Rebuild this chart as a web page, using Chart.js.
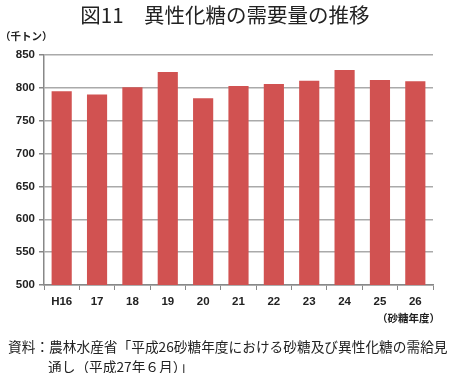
<!DOCTYPE html>
<html><head><meta charset="utf-8">
<script src="https://cdn.jsdelivr.net/npm/chart.js@4"></script>
<style>
html,body{margin:0;padding:0;background:#fff;}
#wrap{position:relative;width:450px;height:373px;overflow:hidden;font-family:"Noto Sans CJK JP",sans-serif;color:#222;}
canvas{position:absolute;left:0;top:0;}
.t{position:absolute;white-space:nowrap;}
#title{left:0;width:450px;top:1px;text-align:center;font-size:20.5px;line-height:26px;}
#unit{left:0px;top:29px;font-size:10.5px;font-weight:bold;line-height:14px;}
#xunit{left:377px;top:311px;font-size:10.5px;font-weight:bold;line-height:14px;}
#src1{left:8px;top:336px;font-size:13.7px;line-height:20px;}
#src2{left:48px;top:356px;font-size:13.7px;line-height:20px;}
</style></head>
<body><div id="wrap">
<canvas id="c" width="450" height="373"></canvas>
<div class="t" id="title">図11　異性化糖の需要量の推移</div>
<div class="t" id="unit">（千トン）</div>
<div class="t" id="xunit">（砂糖年度）</div>
<div class="t" id="src1">資料：農林水産省「平成26砂糖年度における砂糖及び異性化糖の需給見</div>
<div class="t" id="src2">通し（平成27年６月）」</div>
</div>
<script>
const categories = ["H16","17","18","19","20","21","22","23","24","25","26"];
const demand = [795, 790, 801, 824, 784, 803, 806, 811, 827, 812, 810];
const yTicks = [500,550,600,650,700,750,800,850];

new Chart(document.getElementById('c'), {
  type: 'bar',
  data: { labels: categories, datasets: [{ data: demand, backgroundColor: '#d15251', borderWidth: 0, barPercentage: 0.57, categoryPercentage: 1.0 }] },
  options: {
    responsive: false, animation: false,
    layout: { padding: { left: 0, top: 55, right: 17, bottom: 58 } },
    plugins: { legend: { display: false }, tooltip: { enabled: false }, title: { display: false } },
    scales: {
      x: {
        afterFit: s => { s.height = 30; },
        grid: { display: true, offset: true, drawOnChartArea: false, drawTicks: true, tickLength: 5, color: '#888', lineWidth: 1 },
        border: { display: true, color: '#888', width: 1.5 },
        ticks: { padding: 5, color: '#222', font: { family: 'Liberation Sans', weight: 'bold', size: 11.5 }, maxRotation: 0, autoSkip: false }
      },
      y: {
        min: 500, max: 850,
        afterFit: s => { s.width = 44; },
        afterBuildTicks: s => { s.ticks = yTicks.map(v => ({ value: v })); },
        grid: { color: '#aaaaaa', lineWidth: 1.5, tickLength: 5, drawTicks: true, tickColor: '#888' },
        border: { display: true, color: '#888', width: 1.5 },
        ticks: { padding: 4, color: '#222', font: { family: 'Liberation Sans', weight: 'bold', size: 11.5 } }
      }
    }
  }
});
</script>
</body></html>
